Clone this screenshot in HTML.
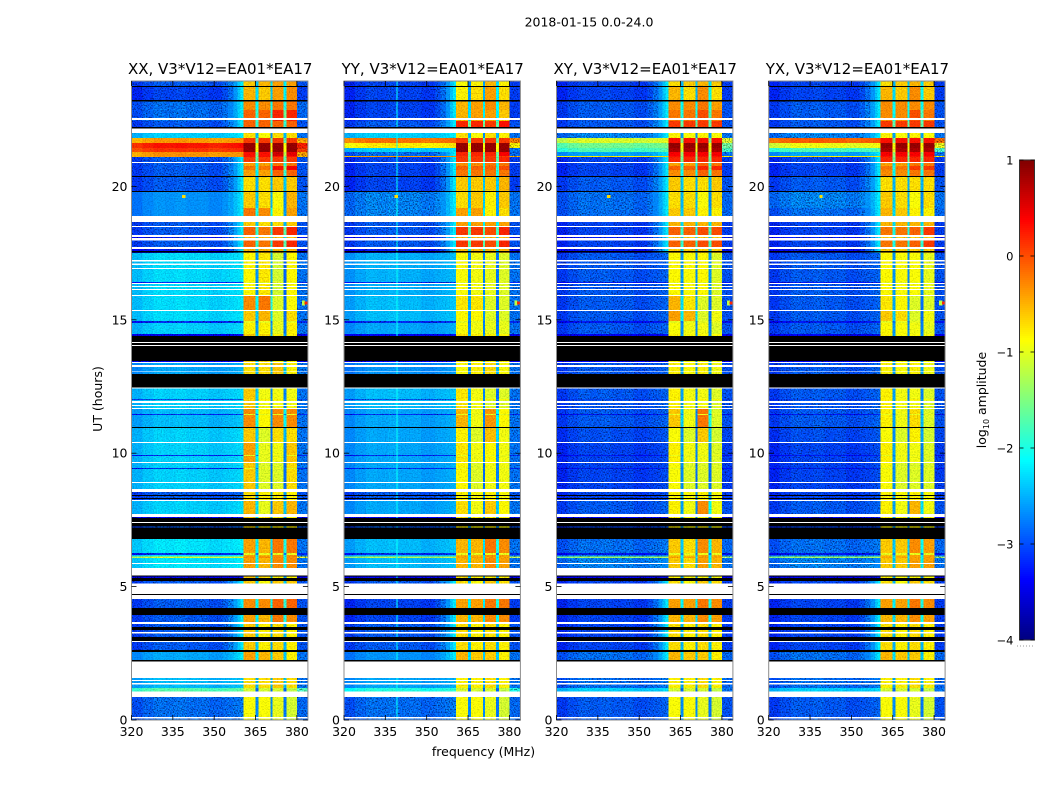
<!DOCTYPE html>
<html lang="en">
<head>
<meta charset="utf-8">
<title>2018-01-15 0.0-24.0</title>
<style>
html,body{margin:0;padding:0;background:#fff;}
#figure{display:block;width:1050px;height:800px;}
text{font-family:"DejaVu Sans","Liberation Sans",sans-serif;fill:#000;}
</style>
</head>
<body>
<svg id="figure" xmlns="http://www.w3.org/2000/svg" width="1050" height="800" viewBox="0 0 1050 800">
  <defs>
    <filter id="noise-strong" x="0" y="0" width="1" height="1" color-interpolation-filters="sRGB">
      <feTurbulence type="fractalNoise" baseFrequency="0.75" numOctaves="1" seed="7" result="t"/>
      <feColorMatrix in="t" type="matrix" values="1 0 0 0 0  1 0 0 0 0  1 0 0 0 0  0 0 0 0 1" result="n"/>
      <feComposite in="SourceGraphic" in2="n" operator="arithmetic" k1="2.2" k2="-0.1" k3="0" k4="0"/>
    </filter>
    <filter id="noise-calm" x="0" y="0" width="1" height="1" color-interpolation-filters="sRGB">
      <feTurbulence type="fractalNoise" baseFrequency="0.75" numOctaves="1" seed="11" result="t"/>
      <feColorMatrix in="t" type="matrix" values="1 0 0 0 0  1 0 0 0 0  1 0 0 0 0  0 0 0 0 1" result="n"/>
      <feComposite in="SourceGraphic" in2="n" operator="arithmetic" k1="0.6" k2="0.7" k3="0" k4="0"/>
    </filter>
  </defs>
  <text x="589" y="26.5" font-size="12.5" text-anchor="middle">2018-01-15 0.0-24.0</text>
  <text x="483.5" y="756" font-size="12.5" text-anchor="middle">frequency (MHz)</text>
  <text x="102" y="399" font-size="12.5" text-anchor="middle" transform="rotate(-90 102 399)">UT (hours)</text>
  <text x="986" y="400" font-size="12.5" text-anchor="middle" transform="rotate(-90 986 400)">log<tspan font-size="8" dy="3">10</tspan><tspan dy="-3"> amplitude</tspan></text>
  <g id="panels"></g>
  <g id="colorbar"></g>
</svg>
<script>
// ---- Data ----
const panelTitles = ['XX, V3*V12=EA01*EA17','YY, V3*V12=EA01*EA17','XY, V3*V12=EA01*EA17','YX, V3*V12=EA01*EA17'];
const xTicks = [320,335,350,365,380];
const yTicks = [0,5,10,15,20];
const cbTicks = [1,0,-1,-2,-3,-4];

// Upper edge (UT hours) of each time band, top to bottom.
const bandTopUT = [
 23.95,23.76,23.72,23.23,23.19,22.86,22.56,22.48,22.45,22.23,
 22.17,22.00,21.81,21.63,21.44,21.29,21.14,21.10,20.91,20.88,
 20.76,20.61,20.39,20.35,19.82,19.79,19.19,18.89,18.66,18.51,
 18.47,18.17,18.10,18.06,17.98,17.72,17.65,17.57,17.53,17.51,
 17.24,17.19,17.11,17.06,16.94,16.91,16.42,16.38,16.34,16.27,
 16.23,16.15,16.12,15.93,15.89,15.37,15.33,14.95,14.88,14.46,
 14.39,14.16,14.13,14.05,14.01,13.45,13.41,13.38,13.30,13.23,
 13.07,13.04,12.96,12.47,12.43,12.03,12.00,11.96,11.88,11.81,
 11.77,11.70,11.66,11.47,11.43,10.98,10.94,10.42,10.38,9.93,
 9.89,9.67,9.63,9.44,9.41,8.92,8.88,8.65,8.54,8.43,
 8.39,8.32,8.28,8.24,8.20,7.72,7.61,7.57,7.42,7.39,
 7.25,7.21,6.79,6.26,6.19,6.13,6.07,5.89,5.85,5.70,
 5.41,5.38,5.32,5.21,5.12,4.72,4.68,4.53,4.20,3.93,
 3.67,3.59,3.48,3.37,3.29,3.24,3.11,2.96,2.92,2.62,
 2.55,2.25,2.20,1.58,1.50,1.46,1.39,1.33,1.20,1.06,
 0.86,0.11,0.06];
// Class of each band: -1 flagged white, -2 flagged black, otherwise an index into the level arrays.
const bandClass = [
 0,-2,1,-2,2,3,-1,3,4,-2,
 -1,5,6,7,8,9,10,11,-1,12,
 13,14,-2,15,-2,16,17,-1,18,-1,
 19,-1,20,-1,19,-1,20,-2,20,21,
 -1,21,-1,21,-1,21,24,-1,21,-1,
 21,-1,21,-1,22,-1,23,24,25,26,
 -2,-1,-2,-1,-2,26,-1,27,-1,27,
 -1,27,-2,-1,28,33,28,-1,28,-1,
 28,-1,29,24,29,-2,30,-1,31,24,
 31,-1,32,24,32,-1,32,-1,33,-2,
 33,-2,33,-1,34,-1,26,-2,-1,-2,
 33,-2,35,24,36,45,36,-1,36,-1,
 -2,26,-2,37,-1,-2,-1,38,-2,39,
 -1,40,-2,40,-1,40,-2,-1,40,-2,
 41,-2,-1,42,-1,42,-1,42,43,-1,
 44,-1,44];

// Background amplitude (log10) per class, 320-352 MHz.
const bgXX = [-3.0,-3.1,-2.9,-2.9,-3.0,-2.4,-0.4,0.25,0.1,-0.35,-0.4,-3.0,-3.0,-3.0,-3.0,-3.0,-2.7,-2.7,-3.0,-3.0,-3.3,-2.35,-2.35,-2.35,-3.2,-2.4,-3.4,-2.6,-2.4,-2.5,-2.4,-2.4,-2.4,-3.0,-2.4,-2.3,-2.3,-3.0,-3.0,-3.0,-3.0,-2.6,-2.5,-1.75,-2.9,-1.1];
const bgYY = [-3.1,-3.1,-3.1,-3.1,-3.0,-2.4,-0.2,-0.8,-2.4,-2.9,-0.4,-3.1,-3.1,-3.1,-3.1,-3.1,-2.8,-2.8,-3.0,-3.0,-3.3,-2.55,-2.5,-2.5,-3.2,-2.6,-3.4,-2.7,-2.5,-2.6,-2.6,-2.6,-2.6,-3.0,-2.6,-2.5,-2.5,-3.0,-3.1,-3.1,-3.0,-2.7,-2.6,-2.0,-2.9,-1.3];
const bgXY = [-3.1,-3.1,-3.0,-3.0,-3.0,-2.8,-1.1,-1.6,-1.8,-2.6,-0.8,-3.1,-3.1,-3.1,-3.1,-3.0,-2.9,-2.9,-3.1,-3.1,-3.3,-3.0,-3.0,-3.0,-3.3,-3.0,-3.4,-3.0,-3.0,-3.0,-3.05,-3.1,-3.1,-3.1,-3.0,-2.9,-2.8,-3.1,-3.1,-3.1,-3.1,-2.9,-2.9,-2.4,-3.0,-1.4];
const bgYX = [-3.1,-3.1,-3.0,-3.0,-3.0,-2.8,-0.1,-1.0,-1.8,-2.6,-0.8,-3.1,-3.1,-3.1,-3.1,-3.0,-2.8,-2.9,-3.1,-3.1,-3.3,-3.0,-3.0,-3.0,-3.3,-3.0,-3.4,-3.0,-3.0,-3.0,-3.05,-3.1,-3.1,-3.1,-3.0,-2.9,-2.8,-3.1,-3.1,-3.1,-3.1,-2.9,-2.9,-2.4,-3.0,-1.4];

// Amplitude of the four spectral windows per class.
const spwXX = [[-.6,-.5,-.4,-.4],[-.5,-.6,-.4,-.3],[-.3,-.3,-.2,-.2],[-.1,-.1,.2,.2],[-.1,-.1,-.1,-.1],[-.7,-.9,-.7,-.7],[.1,.1,.1,.1],[.9,.9,.9,.9],[.9,.9,.9,.9],[.3,.3,.6,.5],[.3,.3,.3,.3],[.1,.1,.1,.1],[-.4,-.4,-.2,-.2],[-.2,-.2,.3,.4],[-.4,-.4,-.1,-.1],[-.7,-.7,-.6,-.6],[-.6,-.7,-.9,-.5],[-.2,-.3,-.8,-.4],[-.6,-.7,-.7,-.6],[-.1,-.2,.1,.2],[-.5,-.5,-.5,-.5],[-.85,-.75,-1.1,-.85],[-.3,-.2,-1.05,-.9],[-.6,-.5,-1.05,-.7],[-1,-1,-1,-1],[-.8,-.8,-1,-.8],[-.6,-.7,-.8,-.8],[-.7,-.7,-.6,-.8],[-.6,-.95,-.95,-.95],[-.3,-.85,-.3,-.3],[-.6,-1.05,-.7,-.7],[-.4,-1,-.95,-.6],[-.6,-1.05,-1.05,-.7],[-.7,-.8,-.8,-.8],[-.5,-1,-.6,-.5],[-.4,-.5,-.2,-.2],[-.4,-.5,-.3,-.3],[-.6,-.9,-.6,-.6],[-.3,-.3,-.1,-.1],[-.4,-.5,-.2,-.3],[-.6,-.8,-.7,-.8],[-.4,-.5,-.6,-.8],[-.7,-.7,-.6,-.7],[-1.1,-1.1,-1.1,-1.2],[-.9,-.9,-1,-1.1],[-.3,-.3,-.3,-.3]];
const spwYY = [[-.9,-.8,-.5,-.8],[-.8,-.7,-.4,-.7],[-.5,-.4,-.3,-.5],[-.5,-.4,-.4,-.6],[.2,.2,.1,.3],[-.7,-.9,-.7,-.8],[.1,.1,.1,.1],[.9,.9,.9,.9],[.9,.9,.9,.9],[.2,.2,.2,.4],[.1,.1,.1,.1],[.1,.1,.1,.2],[-.3,-.3,-.2,-.2],[-.1,-.1,-.1,0],[-.2,-.2,-.2,-.2],[-.6,-.6,-.6,-.5],[-.7,-.6,-.8,-.6],[-.4,-.4,-.8,-.7],[-.4,-.4,-.4,-.4],[.1,.1,0,.2],[-.5,-.5,-.5,-.5],[-.9,-.95,-1,-1.05],[-.75,-.75,-1.05,-1.05],[-.85,-.85,-1.05,-1.05],[-1,-1,-1,-1],[-.9,-.95,-1,-1],[-.7,-.8,-.8,-.8],[-.9,-.8,-.7,-.9],[-.75,-.95,-1.05,-1.05],[-.5,-.95,-.35,-.85],[-.8,-1.05,-.55,-.95],[-.75,-.95,-.85,-.95],[-.85,-1.05,-.95,-.95],[-.8,-.9,-.8,-.9],[-.7,-.95,-.6,-.85],[-.5,-.5,-.2,-.3],[-.5,-.5,-.3,-.4],[-.7,-.9,-.6,-.7],[-.4,-.4,-.2,-.2],[-.5,-.5,-.3,-.3],[-.7,-.8,-.7,-.8],[-.5,-.6,-.6,-.8],[-.8,-.8,-.7,-.8],[-1.1,-1.1,-1.1,-1.2],[-.9,-.9,-1,-1.1],[-.4,-.4,-.4,-.4]];
const spwXY = [[-.7,-.6,-.5,-.6],[-.5,-.7,-.3,-.7],[-.3,-.3,-.2,-.4],[-.2,-.2,0,-.2],[.1,.1,.1,.1],[-.8,-.9,-.8,-.9],[.3,.3,.3,.3],[.9,.9,.9,.9],[.8,.8,.8,.8],[.4,.4,.4,.4],[.3,.3,.3,.3],[.2,.2,.2,.2],[-.4,-.4,-.1,-.2],[-.1,-.1,.2,.2],[-.3,-.3,-.1,-.2],[-.6,-.7,-.7,-.6],[-.7,-.7,-.9,-.7],[-.6,-.6,-.8,-.8],[-.5,-.5,-.5,-.5],[-.1,-.1,0,0],[-.6,-.6,-.6,-.6],[-.85,-.9,-.85,-1.05],[-.5,-.75,-1.05,-1.05],[-.4,-.5,-1.05,-.95],[-1,-1,-1,-1],[-.9,-.95,-.95,-1.05],[-.8,-.9,-.9,-.9],[-.8,-.9,-.8,-.95],[-.8,-.95,-.95,-1.05],[-.6,-.95,-.2,-1.05],[-.9,-1.05,-.6,-1.1],[-.8,-.95,-.95,-1.05],[-.9,-1.05,-1.05,-1.05],[-.8,-.9,-.8,-.9],[-.8,-.95,-.3,-.95],[-.6,-.7,-.3,-.5],[-.6,-.7,-.4,-.5],[-.7,-.9,-.6,-.7],[-.4,-.4,-.2,-.3],[-.5,-.5,-.3,-.4],[-.7,-.8,-.7,-.8],[-.5,-.6,-.6,-.8],[-.8,-.8,-.7,-.8],[-1.1,-1.1,-1.1,-1.2],[-.9,-.9,-1,-1.1],[-.4,-.4,-.4,-.4]];
const spwYX = [[-.7,-.6,-.5,-.6],[-.5,-.6,-.3,-.6],[-.3,-.3,-.3,-.3],[-.3,-.3,0,-.2],[.1,.1,.1,.1],[-.8,-.9,-.8,-.9],[.3,.3,.3,.3],[.9,.9,.9,.9],[.8,.8,.8,.8],[.4,.4,.4,.4],[.3,.3,.3,.3],[.2,.2,.2,.2],[-.4,-.4,-.2,-.2],[-.2,-.2,.1,.1],[-.3,-.3,-.2,-.2],[-.7,-.7,-.7,-.7],[-.6,-.7,-.9,-.7],[-.5,-.6,-.8,-.8],[-.5,-.5,-.5,-.5],[-.2,-.2,-.1,.1],[-.6,-.6,-.6,-.6],[-.85,-.9,-.9,-1],[-.75,-.85,-1.05,-1.05],[-.6,-.7,-1.05,-.95],[-1,-1,-1,-1],[-.85,-.9,-.95,-1],[-.8,-.9,-.9,-.9],[-.8,-.9,-.8,-.95],[-.8,-.95,-.95,-1.05],[-.8,-.95,-.7,-1.05],[-.9,-1.05,-.8,-1.1],[-.8,-.95,-.95,-1.05],[-.9,-1.05,-1.05,-1.05],[-.8,-.9,-.8,-.9],[-.8,-.95,-.5,-.95],[-.6,-.6,-.3,-.4],[-.6,-.6,-.4,-.4],[-.7,-.9,-.6,-.7],[-.4,-.4,-.2,-.3],[-.5,-.5,-.3,-.4],[-.7,-.8,-.7,-.8],[-.5,-.6,-.6,-.8],[-.8,-.8,-.7,-.8],[-1.1,-1.1,-1.1,-1.2],[-.9,-.9,-1,-1.1],[-.4,-.4,-.4,-.4]];

// How strongly each class brightens towards the band edge near 356 MHz.
const edgeGlow = [1,1,1,1,1,1,0,0,0,1,0,1,1,1,1,1,1,1,1,1,1,0,0,0,0,0,0,0,0,0,0,0,0,0,0,0,0,1,1,1,1,1,0,0,0,0];
// Slow drift across the background channels, 320-353 MHz.
const channelTilt = [-0.12,-0.02,0.05,0.03,0.06,0.02,0.03,-0.03];
// Narrow interference spots.
const spotFreq = [339,382.4,382.4,383.4];
const spotUT = [19.62,15.68,15.58,15.63];
const spotValue = [-0.7,-1.2,-1.2,0.2];
// Persistent line visible in YY.
const yyLineFreq = [339.3];
const yyLineValue = [-2.1];

// ---- Axis functions ----
const SVG_NS = 'http://www.w3.org/2000/svg';
const panelLefts = [131.5,344,556.5,768.7];
const panelWidth = 176.4;
const plotTop = 81, plotBottom = 720;
const freqMin = 320, freqMax = 384, utMin = 0, utMax = 23.95;
const cbLeft = 1019.5, cbWidth = 15, cbTop = 160, cbBottom = 640;
const valMin = -4, valMax = 1;

function xScale(p, f){ return panelLefts[p] + (f - freqMin) / (freqMax - freqMin) * panelWidth; }
function yScale(ut){ return plotBottom - (ut - utMin) / (utMax - utMin) * (plotBottom - plotTop); }
function cbScale(v){ return cbBottom - (v - valMin) / (valMax - valMin) * (cbBottom - cbTop); }
function clip01(v){ return Math.max(0, Math.min(1, v)); }
function jet(v){
  const x = clip01((v - valMin) / (valMax - valMin));
  const r = clip01(1.5 - Math.abs(4 * x - 3));
  const g = clip01(1.5 - Math.abs(4 * x - 2));
  const b = clip01(1.5 - Math.abs(4 * x - 1));
  return 'rgb(' + Math.round(r * 255) + ',' + Math.round(g * 255) + ',' + Math.round(b * 255) + ')';
}
function shape(tag, parent, attrs){
  const el = document.createElementNS(SVG_NS, tag);
  for (const k in attrs) el.setAttribute(k, attrs[k]);
  parent.appendChild(el);
  return el;
}

// Frequency cell edges
const bgEdges = [320,324,328,332,336,340,344,348,353];
const spwEdges = [[360.6,364.9],[366,370.4],[371.1,375.1],[376.2,380.1]];
const glowEdges = [353,355,357,358.5,359.5,360.6];
const glowMix = [0.08,0.25,0.5,0.75,0.95];
const noisyLimit = -2.75;

function addCell(group, p, f0, f1, top, bottom, value){
  const x0 = xScale(p, f0), x1 = xScale(p, f1);
  const y0 = yScale(top), y1 = yScale(bottom);
  const el = shape('rect', group, {x: x0, y: y0, width: x1 - x0, height: y1 - y0, fill: jet(value)});
  
  
  return el;
}
function addBand(group, p, top, bottom, fill){
  const el = shape('rect', group, {x: panelLefts[p], y: yScale(top), width: panelWidth, height: yScale(bottom) - yScale(top), fill: fill});
  
  
}

const bgByPanel = [bgXX, bgYY, bgXY, bgYX];
const spwByPanel = [spwXX, spwYY, spwXY, spwYX];
const panelsRoot = document.getElementById('panels');

panelTitles.forEach(function(title, p){
  const panel = shape('g', panelsRoot, {});
  
  

  const heat = shape('g', panel, {'shape-rendering': 'crispEdges'});
  
  

  const noisy = shape('g', heat, {filter: 'url(#noise-strong)'});
  
  
  const calm = shape('g', heat, {filter: 'url(#noise-calm)'});
  
  
  const marks = shape('g', heat, {});
  
  
  const flags = shape('g', heat, {});
  
  

  bandTopUT.forEach(function(top, b){
    const bottom = b + 1 < bandTopUT.length ? bandTopUT[b + 1] : utMin;
    const cls = bandClass[b];
    if (cls === -1) { addBand(flags, p, top, bottom, '#ffffff'); return; }
    if (cls === -2) { addBand(flags, p, top, bottom, '#000000'); return; }
    const bg = bgByPanel[p][cls];
    const spw = spwByPanel[p][cls];
    const bgGroup = bg <= noisyLimit ? noisy : calm;
    channelTilt.forEach(function(t, i){
      addCell(bgGroup, p, bgEdges[i], bgEdges[i + 1], top, bottom, bg + t);
    });
    const target = edgeGlow[cls] ? Math.max(bg, -2.2) : bg + 0.1;
    glowMix.forEach(function(m, i){
      const v = bg + (target - bg) * m;
      addCell(v <= noisyLimit ? noisy : calm, p, glowEdges[i], glowEdges[i + 1], top, bottom, v);
    });
    spw.forEach(function(v, i){
      addCell(calm, p, spwEdges[i][0], spwEdges[i][1], top, bottom, v);
      const gapEnd = i < 3 ? spwEdges[i + 1][0] : freqMax;
      const gapValue = i < 3 ? v - 1.8 : (bg < -2 ? Math.min(bg, -2.85) : bg);
      addCell(i < 3 ? calm : noisy, p, spwEdges[i][1], gapEnd, top, bottom, gapValue);
    });
    if (p === 1) {
      addCell(marks, p, yyLineFreq[0] - 0.2, yyLineFreq[0] + 0.2, top, bottom, yyLineValue[0]);
    }
  });
  spotFreq.forEach(function(f, i){
    const el = addCell(marks, p, f - 0.6, f + 0.6, spotUT[i] + 0.05, spotUT[i] - 0.05, spotValue[i]);
    
  });

  const frame = shape('rect', panel, {x: panelLefts[p], y: plotTop, width: panelWidth, height: plotBottom - plotTop, fill: 'none', stroke: '#8c8c8c', 'stroke-width': 1});
  
  

  const titleEl = shape('text', panel, {x: panelLefts[p] + panelWidth / 2 + 0.5, y: 74, 'font-size': 15, 'text-anchor': 'middle'});
  titleEl.textContent = title;
  
  

  xTicks.forEach(function(tick){
    const x = xScale(p, tick);
    [[plotBottom, plotBottom - 5], [plotTop, plotTop + 5]].forEach(function(seg){
      const tl = shape('line', panel, {x1: x, x2: x, y1: seg[0], y2: seg[1], stroke: '#000', 'stroke-width': 0.8});
      
      
    });
    const lab = shape('text', panel, {x: x, y: 736, 'font-size': 12.5, 'text-anchor': 'middle'});
    lab.textContent = String(tick);
    
    
  });
  yTicks.forEach(function(tick){
    const y = yScale(tick);
    const left = panelLefts[p], right = left + panelWidth;
    [[left, left + 5], [right, right - 5]].forEach(function(seg){
      const tl = shape('line', panel, {x1: seg[0], x2: seg[1], y1: y, y2: y, stroke: '#000', 'stroke-width': 0.8});
      
      
    });
    const lab = shape('text', panel, {x: left - 4, y: y + 4.5, 'font-size': 12.5, 'text-anchor': 'end'});
    lab.textContent = String(tick);
    
    
  });
});

// ---- Colorbar ----
const cbRoot = document.getElementById('colorbar');
const cbRamp = shape('g', cbRoot, {'shape-rendering': 'crispEdges'});


for (let py = cbTop; py < cbBottom; py += 2) {
  const v = valMax - (py + 1 - cbTop) / (cbBottom - cbTop) * (valMax - valMin);
  const seg = shape('rect', cbRamp, {x: cbLeft, y: py, width: cbWidth, height: 2, fill: jet(v)});
  
  
}
const cbFrame = shape('rect', cbRoot, {x: cbLeft, y: cbTop, width: cbWidth, height: cbBottom - cbTop, fill: 'none', stroke: '#333', 'stroke-width': 1});


cbTicks.forEach(function(tick){
  const y = cbScale(tick);
  [[cbLeft, cbLeft + 4], [cbLeft + cbWidth, cbLeft + cbWidth - 4]].forEach(function(seg){
    const tl = shape('line', cbRoot, {x1: seg[0], x2: seg[1], y1: y, y2: y, stroke: '#000', 'stroke-width': 0.8});
    
    
  });
  const lab = shape('text', cbRoot, {x: cbLeft - 6, y: y + 4.5, 'font-size': 11.5, 'text-anchor': 'end'});
  lab.textContent = tick < 0 ? '\u2212' + Math.abs(tick) : String(tick);
  
  
});
const cbDots = shape('line', cbRoot, {x1: 1017, x2: 1035, y1: 646, y2: 646, stroke: '#999', 'stroke-width': 1, 'stroke-dasharray': '1 2'});


</script>
</body>
</html>
